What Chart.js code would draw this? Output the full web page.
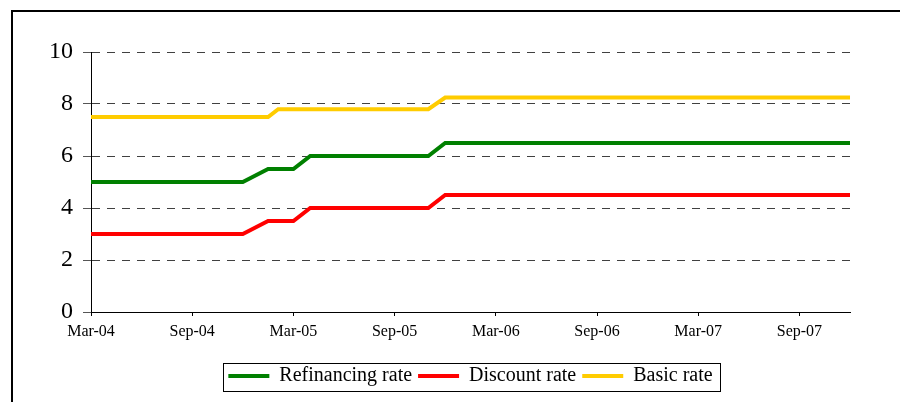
<!DOCTYPE html>
<html>
<head>
<meta charset="utf-8">
<title>Rates</title>
<script src="https://cdn.jsdelivr.net/npm/chart.js@4.4.1/dist/chart.umd.min.js"></script>
<style>
  html, body { margin: 0; padding: 0; background: #fff; }
  #wrap { position: relative; width: 900px; height: 402px; overflow: hidden; }
  #frame {
    position: absolute; left: 11px; top: 10px; width: 1000px; height: 500px;
    border-left: 2px solid #000; border-top: 2px solid #000;
  }
  canvas { position: absolute; left: 0; top: 0; }
</style>
</head>
<body>
<div id="wrap">
  <div id="frame"></div>
  <canvas id="chart" width="900" height="402"></canvas>
</div>
<script>
// Etiquetas del eje X (cada 6 meses desde Mar-04)
const tickLabels = ['Mar-04', 'Sep-04', 'Mar-05', 'Sep-05', 'Mar-06', 'Sep-06', 'Mar-07', 'Sep-07'];

// Puntos de cambio (meses desde Mar-04, valor en %)
const refiMonths = [0, 9, 10.5, 12, 13, 20, 21, 45];
const refiRate = [5, 5, 5.5, 5.5, 6, 6, 6.5, 6.5];

const discMonths = [0, 9, 10.5, 12, 13, 20, 21, 45];
const discRate = [3, 3, 3.5, 3.5, 4, 4, 4.5, 4.5];

const basicMonths = [0, 10.5, 11.1, 20, 21, 45];
const basicRate = [7.5, 7.5, 7.8, 7.8, 8.25, 8.25];

const toPoints = (xs, ys) => xs.map((x, i) => ({ x: x, y: ys[i] }));

Chart.defaults.font.family = '"Liberation Serif", "Times New Roman", serif';
Chart.defaults.color = '#000';

// Marco alrededor de la leyenda
const legendBorder = {
  id: 'legendBorder',
  afterDraw(chart) {
    const boxes = chart.legend && chart.legend.legendHitBoxes;
    if (!boxes || !boxes.length) return;
    const first = boxes[0];
    const last = boxes[boxes.length - 1];
    const ctx = chart.ctx;
    const x1 = Math.round(first.left - 5) + 0.5;
    const x2 = Math.round(last.left + last.width + 7) + 0.5;
    const y1 = Math.round(first.top - 3) + 0.5;
    const y2 = Math.round(first.top + first.height + 5) + 0.5;
    ctx.save();
    ctx.strokeStyle = '#000';
    ctx.lineWidth = 1;
    ctx.strokeRect(x1, y1, x2 - x1, y2 - y1);
    ctx.restore();
  }
};

const lineStyle = {
  borderWidth: 4,
  pointRadius: 0,
  tension: 0,
  fill: false
};

new Chart(document.getElementById('chart'), {
  type: 'line',
  data: {
    datasets: [
      { ...lineStyle, label: 'Refinancing rate', data: toPoints(refiMonths, refiRate), borderColor: '#008000', backgroundColor: '#008000' },
      { ...lineStyle, label: 'Discount rate', data: toPoints(discMonths, discRate), borderColor: '#ff0000', backgroundColor: '#ff0000' },
      { ...lineStyle, label: 'Basic rate', data: toPoints(basicMonths, basicRate), borderColor: '#ffcc00', backgroundColor: '#ffcc00' }
    ]
  },
  options: {
    responsive: false,
    animation: false,
    devicePixelRatio: 1,
    layout: { padding: { top: 52, right: 50, bottom: 6, left: 0 } },
    scales: {
      x: {
        type: 'linear',
        min: 0,
        max: 45,
        afterFit: (scale) => { scale.height = 48; },
        grid: { drawOnChartArea: false, drawTicks: true, tickLength: 4, tickColor: '#000' },
        border: { color: '#000', width: 1 },
        ticks: {
          stepSize: 6,
          includeBounds: false,
          autoSkip: false,
          maxRotation: 0,
          padding: 6,
          font: { size: 16 },
          callback: (v) => tickLabels[v / 6] || ''
        }
      },
      y: {
        min: 0,
        max: 10,
        afterFit: (scale) => { scale.width = 91; },
        grid: { color: '#404040', lineWidth: 1, tickLength: 8, tickColor: '#555', tickBorderDash: [] },
        border: { color: '#000', width: 1, dash: [8, 7] },
        ticks: { stepSize: 2, padding: 10, font: { size: 24 } }
      }
    },
    plugins: {
      legend: {
        position: 'bottom',
        fullSize: false,
        labels: {
          usePointStyle: true,
          pointStyle: 'line',
          pointStyleWidth: 41,
          padding: 6,
          font: { size: 20 },
          color: '#000'
        }
      },
      tooltip: { enabled: false }
    }
  },
  plugins: [legendBorder]
});
</script>
</body>
</html>
